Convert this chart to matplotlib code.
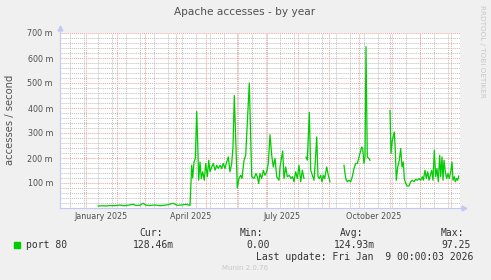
import numpy as np
import matplotlib
matplotlib.use("Agg")
import matplotlib.pyplot as plt
import matplotlib.dates as mdates
from matplotlib.ticker import FixedLocator, FuncFormatter
from datetime import datetime, timedelta

# days after 2024-12-06, value in milli-accesses per second (nan = gap)
start = datetime(2024, 12, 6)
end = start + timedelta(days=400)

days = [
    38.3, 42, 46, 50, 55, 60, 64, 68, 73, 76, 80, 83, 86, 90, 95, 100, 104, 108,
    113, 117, 122, 126, 130,
    131.7, 132.7, 134, 135.3, 136.7, 137.7, 138.7, 140, 141.3, 142.7, 144.3,
    145.7, 147.3, 148.7, 150, 151.7, 153.3, 155, 156.7, 158.3, 160, 161.7, 163.3,
    165, 166.7, 168.3, 170, 171.7, 173, 174.3, 177.3, 179, 180.7, 182, 184, 185.7,
    189.3, 191.7, 194, 196, 197.3, 198.7, 200, 201.7, 203.3, 205, 206.7, 208.3,
    210, 211.7, 213.3, 215, 216.7, 219, 220, 222.7, 224, 225.7, 227.3, 229.3, 231,
    232.7, 234, 235.7, 237.3, 239, 240.7, 242.3, 244, 245,
    246, 247.3, 249.3, 250.7, 252.3, 254, 255.3, 256.7, 258, 259.3, 260.7, 262,
    263.3, 264.7, 266.7, 268.3, 270, 271,
    284, 285.7, 287.3, 289, 290.7, 292.3, 294, 295.7, 297.3, 299, 300.7, 301.7,
    302.7, 304, 305, 306, 307.3, 309, 310, 311,
    330, 331, 332.3, 334.3, 335.3, 336.3, 337.7, 339.3, 340.7, 342, 343.3, 344.3,
    345.7, 347.3, 349, 350.7, 352.3, 354, 355.7, 357.3, 359, 360.7, 362.3, 363.3,
    365, 366.3, 367.7, 369, 370.3, 371.7, 373, 374.3, 375.7, 377, 378.3, 379.7,
    380.7, 382, 383, 384, 385.3, 386.7, 388, 389.3, 390.7, 392, 393, 394.3, 395.3,
    396.7, 397.7, 398.7,
]
port80 = [
    8, 9, 8, 10, 9, 12, 9, 11, 15, 10, 11, 19, 11, 10, 12, 9, 11, 13,
    19, 11, 12, 15, 10,
    171, 120, 184, 198, 386, 259, 111, 184, 118, 145, 111,
    178, 125, 191, 145, 164, 178, 151, 171, 158, 171, 158, 178,
    158, 184, 204, 145, 178, 244, 450, 80, 118, 131, 118, 191, 211,
    500, 125, 118, 138, 125, 98, 138, 118, 151, 131, 145, 178,
    293, 211, 164, 198, 125, 111, 164, 228, 118, 164, 125, 131, 118,
    125, 105, 145, 118, 171, 105, 151, 118, np.nan,
    204, 191, 383, 151, 131, 111, 184, 284, 125, 118, 131, 105,
    131, 118, 164, 131, 105, np.nan,
    171, 118, 105, 111, 105, 125, 158, 178, 178, 204, 231, 244,
    238, 178, 204, 645, 204, 198, 191, np.nan,
    390, 218, 271, 304, 231, 111, 164, 191, 238, 164, 184, 118,
    98, 88, 88, 105, 111, 105, 115, 111, 118, 111, 125, 111,
    151, 118, 145, 111, 131, 151, 111, 231, 125, 158, 105, 211,
    125, 204, 111, 191, 145, 118, 138, 118, 145, 184, 111, 125, 105,
    118, 111, 128,
]

y_ticks = [100, 200, 300, 400, 500, 600, 700]
label_months = [datetime(2025, 1, 1), datetime(2025, 4, 1),
                datetime(2025, 7, 1), datetime(2025, 10, 1)]

legend_heads = ["Cur:", "Min:", "Avg:", "Max:"]
legend_vals = ["128.46m", "0.00", "124.93m", "97.25"]

BG = "#F0F0F0"
TXT = "#505050"
AXIS = "#C4C8F4"
MGRID = "#F0A0A0"
GRID = "#BEBEBE"

W, H = 491, 280
fig = plt.figure(figsize=(W / 100, H / 100), dpi=100, facecolor=BG)
ax = fig.add_axes([60 / W, (H - 208) / H, 400 / W, 175 / H])
ax.set_facecolor("white")

x = [mdates.date2num(start + timedelta(days=d)) for d in days]
ax.set_xlim(mdates.date2num(start), mdates.date2num(end))
ax.set_ylim(0, 700)

# grid: gray every 20m and every other monday, red every 100m and month
dash = (0, (1, 1))
for v in range(20, 700, 20):
    if v % 100:
        ax.axhline(v, color=GRID, lw=0.7, ls=dash, zorder=1)
monday = datetime(2024, 12, 16)
while monday < end:
    ax.axvline(mdates.date2num(monday), color=GRID, lw=0.7, ls=dash, zorder=1)
    monday += timedelta(days=14)
for v in y_ticks:
    ax.axhline(v, color=MGRID, lw=0.7, ls=dash, zorder=2)
m = datetime(2025, 1, 1)
while m < end:
    ax.axvline(mdates.date2num(m), color=MGRID, lw=0.7, ls=dash, zorder=2)
    m = datetime(m.year + m.month // 12, m.month % 12 + 1, 1)

ax.plot(x, port80, color="#00CC00", lw=0.9, zorder=3)

ax.yaxis.set_major_locator(FixedLocator(y_ticks))
ax.yaxis.set_major_formatter(FuncFormatter(lambda v, p: f"{int(v)} m"))
ax.xaxis.set_major_locator(FixedLocator(
    [mdates.date2num(d + timedelta(days=15)) for d in label_months]))
ax.xaxis.set_major_formatter(FuncFormatter(
    lambda v, p: mdates.num2date(v).strftime("%B %Y")))
ax.tick_params(length=0, labelsize=5.8, colors=TXT)
ax.tick_params(axis="y", pad=5)
ax.tick_params(axis="x", pad=3)

for s in ax.spines.values():
    s.set_visible(False)
ax.plot([0, 0], [0, 1.03], color=AXIS, lw=0.8, transform=ax.transAxes,
        clip_on=False, zorder=4)
ax.plot([0, 1.01], [0, 0], color=AXIS, lw=0.8, transform=ax.transAxes,
        clip_on=False, zorder=4)
ax.plot([0], [1.03], marker="^", ms=3.5, color=AXIS, transform=ax.transAxes,
        clip_on=False, zorder=4)
ax.plot([1.01], [0], marker=">", ms=3.5, color=AXIS, transform=ax.transAxes,
        clip_on=False, zorder=4)

fig.text(245 / W, 1 - 12 / H, "Apache accesses - by year", ha="center",
         va="center", fontsize=7.6, color=TXT)
fig.text(10 / W, 1 - 120 / H, "accesses / second", rotation=90, ha="center",
         va="center", fontsize=7.2, color=TXT)
fig.text(482 / W, 1 - 5 / H, "RRDTOOL / TOBI OETIKER", rotation=270,
         ha="center", va="top", fontsize=5.2, color="#C8C8C8")

mono = "DejaVu Sans Mono"
for head, val, hx, vx in zip(legend_heads, legend_vals,
                             [139, 240, 340, 441], [133, 246, 334, 441]):
    fig.text(hx / W, 1 - 233 / H, head, ha="left", va="center",
             fontsize=7, family=mono, color="#333333")
    fig.text(vx / W, 1 - 245 / H, val, ha="left", va="center",
             fontsize=7, family=mono, color="#333333")
fig.patches.append(plt.Rectangle((14 / W, 1 - 247.5 / H), 6 / W, 6 / H,
                                 transform=fig.transFigure, color="#00CC00"))
fig.text(26 / W, 1 - 245 / H, "port 80", ha="left", va="center",
         fontsize=7, family=mono, color="#333333")
fig.text(256 / W, 1 - 257 / H, "Last update: Fri Jan  9 00:00:03 2026",
         ha="left", va="center", fontsize=7, family=mono, color="#333333")
fig.text(245 / W, 1 - 268 / H, "Munin 2.0.76", ha="center", va="center",
         fontsize=5, color="#C8C8C8")

fig.savefig("out.png", dpi=100, facecolor=BG)
